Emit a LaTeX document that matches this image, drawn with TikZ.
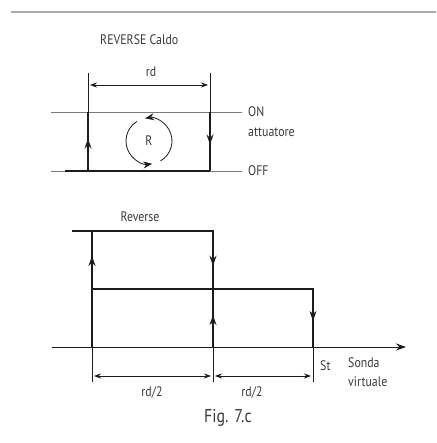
\documentclass[tikz,border=0pt]{standalone}
\usepackage{fontspec}
\setmainfont{PT Sans}[FakeStretch=0.86]
\usetikzlibrary{arrows.meta,calc,positioning}
\definecolor{Ink}{HTML}{1C1C1C}
\definecolor{Label}{HTML}{3A3A3A}
\definecolor{Rule}{HTML}{AAAAAA}
\definecolor{Guide}{HTML}{7A7A7A}
\tikzset{
  loopline/.style={line width=1.5pt, draw=Ink},
  guideline/.style={line width=0.8pt, draw=Ink},
  level/.style={line width=0.9pt, draw=Guide},
  flowtip/.style={-{Stealth[length=10pt,width=7pt]}, line width=1.5pt, draw=Ink},
  dimline/.style={{Stealth[length=7pt,width=5pt]}-{Stealth[length=7pt,width=5pt]}, line width=0.8pt, draw=Ink},
  turn/.style={-{Stealth[length=9pt,width=7pt]}, line width=0.8pt, draw=Ink},
  lbl/.style={text=Label, inner sep=0pt, font=\fontsize{13.8}{16}\selectfont}
}

\begin{document}
\begin{tikzpicture}[x=1pt,y=-1pt]
    \useasboundingbox (0,0) rectangle (436,443);
    % header rule
    \coordinate (ruleL) at (11,12);
    \coordinate (ruleR) at (436,12);
    \draw[line width=2pt, draw=Rule] (ruleL)--(ruleR);

    % upper diagram: REVERSE Caldo
    \node[lbl,anchor=west] (title) at (100,40) {REVERSE Caldo};
    \coordinate (onL) at (51,112);
    \coordinate (onR) at (242,112);
    \coordinate (offL) at (51,171);
    \coordinate (offR) at (242,171);
    \coordinate (offK) at (65,171);
    \coordinate (aTop) at (88,73);
    \coordinate (aOn) at (88,112);
    \coordinate (aOff) at (88,171);
    \coordinate (bTop) at (210,73);
    \coordinate (bOn) at (210,112);
    \coordinate (bOff) at (210,171);
    \draw[level] (onL)--(onR);
    \draw[level] (offL)--(offR);
    \draw[guideline] (aTop)--(aOn);
    \draw[guideline] (bTop)--(bOn);
    \draw[loopline] (aOn)--(aOff);
    \draw[loopline] (bOn)--(bOff);
    \draw[loopline] (offK)--(bOff);
    \draw[flowtip] (aOff)--($(aOff)!.55!(aOn)$);
    \draw[flowtip] (bOn)--($(bOn)!.55!(bOff)$);
    \draw[dimline] ($(aTop)+(2,12)$)--($(bTop)+(-2,12)$);
    \node[lbl] (rd) at (151,72) {rd};
    \node[lbl,anchor=west] (on) at (248,112) {ON};
    \node[lbl,anchor=west] (act) at (248,132) {attuatore};
    \node[lbl,anchor=west] (off) at (248,171) {OFF};
    % rotation marker (y axis points down, so angles are mirrored)
    \node[lbl] (R) at (149,141) {R};
    \draw[turn] ($(R)+(60:23)$) arc[start angle=60, end angle=-100, radius=23];
    \draw[turn] ($(R)+(-122:23)$) arc[start angle=-122, end angle=-278, radius=23];

    % lower diagram: Reverse
    \node[lbl] (rev) at (140,217) {Reverse};
    \coordinate (hiL) at (72,231);
    \coordinate (p1hi) at (92,231);
    \coordinate (p2hi) at (213,231);
    \coordinate (p1mid) at (92,289);
    \coordinate (p2mid) at (213,289);
    \coordinate (p3mid) at (313,289);
    \coordinate (p1ax) at (92,347);
    \coordinate (p2ax) at (213,347);
    \coordinate (p3ax) at (313,347);
    \coordinate (p1lo) at (92,382);
    \coordinate (p2lo) at (213,382);
    \coordinate (p3lo) at (313,382);
    \coordinate (axL) at (52,347);
    \coordinate (axR) at (406,347);
    \draw[-{Stealth[length=10pt,width=7pt]}, line width=1pt, draw=Ink] (axL)--(axR);
    \draw[loopline] (hiL)--(p2hi)--(p2ax);
    \draw[loopline] (p1ax)--(p1hi);
    \draw[loopline] (p1mid)--(p3mid)--(p3ax);
    \draw[guideline] (p1ax)--(p1lo);
    \draw[guideline] (p2ax)--(p2lo);
    \draw[guideline] (p3ax)--(p3lo);
    \draw[flowtip] (p1mid)--($(p1mid)!.57!(p1hi)$);
    \draw[flowtip] (p2hi)--($(p2hi)!.6!(p2mid)$);
    \draw[flowtip] (p2ax)--($(p2ax)!.55!(p2mid)$);
    \draw[flowtip] (p3mid)--($(p3mid)!.55!(p3ax)$);
    \draw[dimline] ($(p1lo)+(2,-6)$)--($(p2lo)+(-2,-6)$);
    \draw[dimline] ($(p2lo)+(2,-6)$)--($(p3lo)+(-2,-6)$);
    \node[lbl] (half1) at (152,393) {rd/2};
    \node[lbl] (half2) at (252,393) {rd/2};
    \node[lbl,anchor=west] (st) at (320,366) {St};
    \node[lbl,anchor=west] (probe) at (348,363) {Sonda};
    \node[lbl,anchor=west] (probe2) at (348,382) {virtuale};
    \node[lbl,font=\fontsize{18.5}{20}\selectfont] (fig) at (228,418) {Fig. 7.c};
\end{tikzpicture}
\end{document}
